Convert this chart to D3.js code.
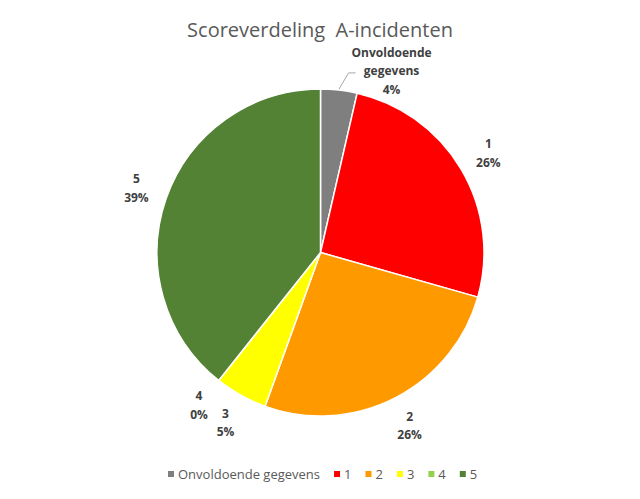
<!DOCTYPE html>
<html><head><meta charset="utf-8">
<script src="https://cdn.jsdelivr.net/npm/d3@7"></script>
<style>body{margin:0;background:#fff}svg{display:block}</style>
</head><body>
<svg id="c" width="640" height="499"></svg>
<script>
const categories = ["Onvoldoende gegevens", "1", "2", "3", "4", "5"];
const values = [3.6, 25.8, 26.1, 5.2, 0, 39.3];
const percentLabels = ["4%", "26%", "26%", "5%", "0%", "39%"];
const colors = ["#7f7f7f", "#ff0000", "#ff9900", "#ffff00", "#92d050", "#548235"];
const title = "Scoreverdeling  A-incidenten";

const svg = d3.select("#c");
const W = 640, H = 499;
svg.append("rect").attr("width", W).attr("height", H).attr("fill", "#fff");

const cx = 320.5, cy = 252.5, R = 163.5;
const g = svg.append("g").attr("transform", `translate(${cx},${cy})`);

const data = categories.map((c, i) => ({cat: c, v: values[i], pct: percentLabels[i], color: colors[i]}));
const pie = d3.pie().value(d => d.v).sort(null);
const arcs = pie(data);
const arc = d3.arc().innerRadius(0).outerRadius(R);

g.selectAll("path.slice").data(arcs).enter().append("path")
  .attr("class", "slice")
  .attr("d", arc)
  .attr("fill", d => d.data.color)
  .attr("stroke", "#fff").attr("stroke-width", 1.5).attr("stroke-linejoin", "round");

// labels
const labelR = 195;
const angleShift = [0.26, 0, 0, 0, 0, 0];
const lbl = svg.append("g").attr("font-family", "'Open Sans', 'Liberation Sans', sans-serif")
  .attr("font-size", 12).attr("font-weight", "bold").attr("fill", "#404040");

arcs.forEach((a, i) => {
  const mid = (a.startAngle + a.endAngle) / 2 + angleShift[i];
  const x = cx + labelR * Math.sin(mid);
  const y = cy - labelR * Math.cos(mid);
  const lines = i === 0 ? ["Onvoldoende", "gegevens", a.data.pct] : [a.data.cat, a.data.pct];
  const lh = 18.5;
  const y0 = y - (lines.length - 1) * lh / 2;
  const t = lbl.append("text").attr("text-anchor", "middle");
  lines.forEach((l, k) => {
    t.append("tspan").attr("x", x).attr("y", y0 + k * lh).attr("dy", "0.35em").text(l);
  });
  if (angleShift[i] !== 0) {
    const m0 = (a.startAngle + a.endAngle) / 2;
    const sx = cx + (R + 1) * Math.sin(m0), sy = cy - (R + 1) * Math.cos(m0);
    const ex = x - 36, ey = y0 + lh + 2;
    svg.append("path")
      .attr("d", `M${sx},${sy}L${ex - 7},${ey}L${ex},${ey}`)
      .attr("fill", "none").attr("stroke", "#a6a6a6").attr("stroke-width", 1);
  }
});

// title
svg.append("text").attr("x", 320).attr("y", 37).attr("text-anchor", "middle")
  .attr("xml:space", "preserve").style("white-space", "pre")
  .attr("font-family", "'Open Sans', 'Liberation Sans', sans-serif")
  .attr("font-size", 20).attr("fill", "#595959").text(title);

// legend
const leg = svg.append("g").attr("font-family", "'Open Sans', 'Liberation Sans', sans-serif")
  .attr("font-size", 13).attr("fill", "#595959");
let lx = 168;
const ly = 474;
categories.forEach((c, i) => {
  leg.append("rect").attr("x", lx).attr("y", ly - 3).attr("width", 6).attr("height", 6).attr("fill", colors[i]);
  const t = leg.append("text").attr("x", lx + 10).attr("y", ly).attr("dy", "0.35em").text(c);
  const w = t.node().getComputedTextLength();
  lx += 10 + w + 14;
});
</script>
</body></html>
